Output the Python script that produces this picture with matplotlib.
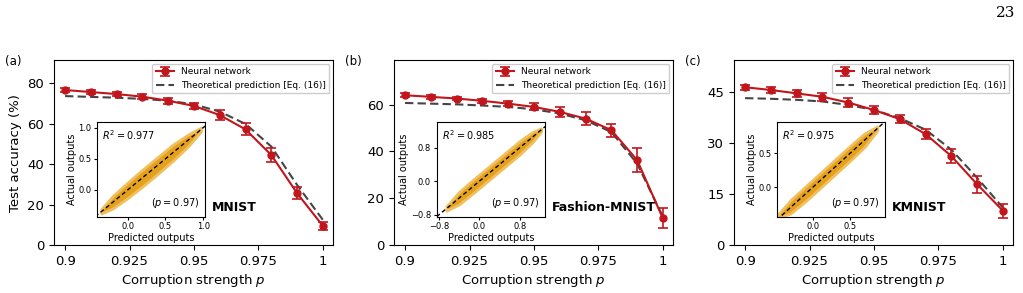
import numpy as np
import matplotlib
matplotlib.use("Agg")
from matplotlib import pyplot as plt

plt.rcParams['font.family'] = ['DejaVu Sans']
plt.rcParams['mathtext.fontset'] = 'dejavusans'

# corruption strengths
p_vals = [0.9, 0.91, 0.92, 0.93, 0.94, 0.95, 0.96, 0.97, 0.98, 0.99, 1.0]

# (a) MNIST
nn_a = [76.7, 75.7, 74.7, 73.4, 71.4, 68.8, 64.3, 57.2, 44.5, 25.6, 9.4]
err_a = [1.0, 1.0, 1.0, 1.2, 1.5, 1.5, 2.5, 3.0, 3.5, 3.0, 2.2]
th_a = [73.7, 73.3, 72.9, 72.3, 71.4, 69.6, 66.0, 59.9, 48.7, 29.7, 12.4]

# (b) Fashion-MNIST
nn_b = [64.0, 63.3, 62.6, 61.6, 60.4, 59.0, 56.9, 54.0, 49.1, 36.3, 11.4]
err_b = [0.8, 0.8, 0.8, 1.0, 1.2, 1.5, 2.0, 2.8, 2.8, 5.0, 4.2]
th_b = [60.7, 60.4, 60.1, 59.6, 59.0, 58.0, 56.2, 53.3, 48.3, 34.8, 12.1]

# (c) KMNIST
nn_c = [46.5, 45.7, 44.7, 43.7, 42.0, 39.8, 37.1, 32.7, 26.2, 17.9, 10.1]
err_c = [0.8, 0.8, 1.0, 1.2, 1.2, 1.2, 1.2, 1.5, 2.0, 2.5, 2.0]
th_c = [43.3, 43.1, 42.8, 42.3, 41.3, 39.8, 37.4, 34.0, 28.1, 19.8, 11.0]

# inset scatter clouds (outline of the dense point cloud)
band_x_a = [-0.35, -0.2, 0.0, 0.2, 0.4, 0.6, 0.8, 0.97]
band_lo_a = [-0.38, -0.30, -0.13, 0.06, 0.26, 0.47, 0.70, 0.94]
band_hi_a = [-0.31, -0.10, 0.12, 0.33, 0.53, 0.73, 0.89, 1.00]

band_x_b = [-0.65, -0.4, -0.1, 0.2, 0.5, 0.8, 1.05, 1.22]
band_lo_b = [-0.70, -0.55, -0.26, 0.04, 0.34, 0.64, 0.93, 1.18]
band_hi_b = [-0.60, -0.25, 0.06, 0.36, 0.66, 0.96, 1.17, 1.26]

band_x_c = [-0.46, -0.3, -0.1, 0.1, 0.3, 0.5, 0.7, 0.87]
band_lo_c = [-0.45, -0.39, -0.21, -0.01, 0.19, 0.39, 0.60, 0.84]
band_hi_c = [-0.39, -0.19, 0.01, 0.21, 0.41, 0.61, 0.80, 0.90]

r2_vals = [0.977, 0.985, 0.975]
names = ["MNIST", "Fashion-MNIST", "KMNIST"]
panel_tags = ["(a)", "(b)", "(c)"]

xticks_main = [0.9, 0.925, 0.95, 0.975, 1.0]
xticklabels_main = ["0.9", "0.925", "0.95", "0.975", "1"]

red = '#C0161C'
orange = '#E6A11C'

fig = plt.figure(figsize=(10.23, 2.93), dpi=100)

panels = [
    (nn_a, err_a, th_a, (0, 91.5), [0, 20, 40, 60, 80],
     band_x_a, band_lo_a, band_hi_a, (-0.41, 1.03), (-0.43, 1.09), [0.0, 0.5, 1.0], [0.0, 0.5, 1.0]),
    (nn_b, err_b, th_b, (0, 79), [0, 20, 40, 60],
     band_x_b, band_lo_b, band_hi_b, (-0.845, 1.305), (-0.845, 1.408), [-0.8, 0.0, 0.8], [-0.8, 0.0, 0.8]),
    (nn_c, err_c, th_c, (0, 54.5), [0, 15, 30, 45],
     band_x_c, band_lo_c, band_hi_c, (-0.49, 0.98), (-0.44, 0.966), [0.0, 0.5], [0.0, 0.5]),
]

lefts = [0.0528, 0.3851, 0.7175]

for i, (nn, err, th, ylim, yticks, bx, blo, bhi, ixl, iyl, ixt, iyt) in enumerate(panels):
    ax = fig.add_axes([lefts[i], 0.1638, 0.2727, 0.631])
    h_nn = ax.errorbar(p_vals, nn, yerr=err, color=red, marker='o', ms=5, lw=1.5,
                       capsize=3.5, capthick=1.2, elinewidth=1.2, zorder=3)
    h_th, = ax.plot(p_vals, th, color='#454545', ls='--', lw=1.5, dashes=(4, 2), zorder=2)
    ax.set_xlim(0.8957, 1.0039)
    ax.set_ylim(*ylim)
    ax.set_xticks(xticks_main)
    ax.set_xticklabels(xticklabels_main)
    ax.set_yticks(yticks)
    ax.tick_params(labelsize=9.5, length=3.5)
    ax.set_xlabel('Corruption strength $p$', fontsize=9.5, labelpad=3)
    if i == 0:
        ax.set_ylabel('Test accuracy (%)', fontsize=9.5)
    ax.legend([h_nn, h_th], ['Neural network', 'Theoretical prediction [Eq. (16)]'],
              loc='upper right', fontsize=6.5, framealpha=1, borderaxespad=0.4,
              handlelength=2.0, labelspacing=0.5)
    ax.text(0.565, 0.205, names[i], transform=ax.transAxes, fontsize=9,
            fontweight='bold', ha='left', va='center')
    fig.text(lefts[i] - 0.048, 0.79, panel_tags[i], fontsize=8.5, va='center')

    ins = ax.inset_axes([0.153, 0.153, 0.39, 0.512])
    ins.fill_between(bx, blo, bhi, color=orange, edgecolor='#F0C060', lw=2.0, zorder=1)
    lo = min(ixl[0], iyl[0])
    hi = max(ixl[1], iyl[1])
    ins.plot([lo, hi], [lo, hi], 'k--', lw=1.0, dashes=(3, 2), zorder=2)
    ins.set_xlim(*ixl)
    ins.set_ylim(*iyl)
    ins.set_xticks(ixt)
    ins.set_yticks(iyt)
    ins.tick_params(labelsize=6, length=2.5, pad=1.5)
    ins.set_xlabel('Predicted outputs', fontsize=7, labelpad=1)
    ins.set_ylabel('Actual outputs', fontsize=7, labelpad=1)
    ins.text(0.05, 0.93, '$R^2 = %.3f$' % r2_vals[i], transform=ins.transAxes,
             fontsize=7, ha='left', va='top')
    ins.text(0.95, 0.07, '$(p = 0.97)$', transform=ins.transAxes,
             fontsize=7, ha='right', va='bottom')

fig.text(0.992, 0.955, '23', fontsize=11, family='DejaVu Serif', ha='right', va='center')

fig.savefig('out.png', dpi=100)
